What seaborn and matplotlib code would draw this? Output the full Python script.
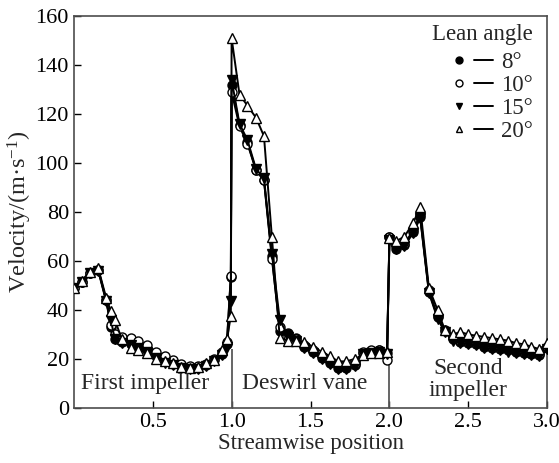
import numpy as np
import pandas as pd
import matplotlib
matplotlib.use('Agg')
import matplotlib.pyplot as plt
import seaborn as sns
from matplotlib.lines import Line2D
from matplotlib.legend_handler import HandlerTuple

# streamwise positions of the three sections
x_first = [0.0, 0.05, 0.10, 0.155, 0.205, 0.235, 0.26, 0.305, 0.36, 0.41, 0.465,
           0.52, 0.575, 0.63, 0.68, 0.735, 0.785, 0.84, 0.89, 0.94, 0.97, 0.995]
x_deswirl = [1.0, 1.05, 1.10, 1.155, 1.205, 1.255, 1.305, 1.36, 1.41, 1.46,
             1.515, 1.57, 1.625, 1.675, 1.725, 1.78, 1.83, 1.885, 1.935, 1.985]
x_second = [2.0, 2.04, 2.095, 2.15, 2.195, 2.25, 2.305, 2.35, 2.4, 2.45, 2.5,
            2.55, 2.6, 2.65, 2.7, 2.75, 2.8, 2.85, 2.9, 2.95, 3.0]

# velocity (m/s) for each lean angle
v8 = ([49, 51.5, 55, 56.5, 44, 33, 28, 27, 26, 25, 23.5, 21, 19, 18, 17, 16.5, 16.5, 17.5, 19.5, 22, 26, 53.5]
      + [132, 115.5, 108.5, 97, 93, 62, 31.5, 30.5, 28.5, 25, 23, 20.5, 18.5, 16.5, 16.5, 17.5, 22.5, 23, 23.5, 22.5]
      + [70, 65, 66.5, 72, 78, 47.5, 37, 31.5, 28, 27, 26.5, 26, 25, 24.5, 24, 23.5, 23, 22.5, 22, 21.5, 24.5])
v10 = ([49, 51.5, 55, 56.5, 44, 34, 30, 29, 28.5, 27.5, 25.5, 23, 21, 19.5, 18, 17, 17, 18, 20, 23, 27, 54]
       + [129, 115, 108, 97, 93, 61, 33, 29.5, 28, 25.5, 23.5, 21, 19, 17.5, 17, 18, 23, 23.5, 23.5, 19.5]
       + [70, 66, 67, 72.5, 79, 48, 37.5, 32, 28.5, 27.5, 27, 26.5, 25.5, 25, 24.5, 24, 23.5, 23, 22.5, 22, 25])
v15 = ([49, 51.5, 55, 56, 43.5, 36, 28, 26.5, 25.5, 24.5, 23, 20.5, 18.5, 17.5, 16.5, 16, 16, 17, 19, 21.5, 25, 43.5]
       + [134, 116, 109.5, 97.5, 94, 63, 36, 29, 27.5, 24.5, 22.5, 20, 18, 16, 16, 17, 22, 22.5, 23, 22]
       + [68.5, 65, 66, 71.5, 77.5, 47, 36.5, 31, 27.5, 26.5, 26, 25.5, 24.5, 24, 23.5, 23, 22.5, 22, 21.5, 21, 24])
v20 = ([49, 52, 55.5, 57, 45, 39.5, 36, 28, 24.5, 23.5, 22.5, 19.8, 19.2, 18.2, 16.8, 16.2, 16.6, 18.2, 19.6, 23.5, 28, 37.5]
       + [151, 128, 123.5, 118.5, 111, 70, 28.5, 27.5, 27.5, 27, 25, 23, 21, 19, 19, 20, 21.6, 22.3, 22.3, 23]
       + [69.5, 68, 70, 75.5, 82, 49, 40, 32, 30, 31, 30, 29.5, 29, 28.5, 28, 27.5, 26.5, 26, 25, 24, 26.5])

angles = ['8°', '10°', '15°', '20°']
x_all = x_first + x_deswirl + x_second

df = pd.concat([pd.DataFrame({'pos': x_all, 'vel': v, 'angle': a})
                for a, v in zip(angles, [v8, v10, v15, v20])])

sns.set_style('ticks')
plt.rcParams['font.family'] = ['Liberation Serif', 'DejaVu Serif']
plt.rcParams['mathtext.fontset'] = 'custom'
plt.rcParams['mathtext.rm'] = 'Liberation Serif'
plt.rcParams['mathtext.it'] = 'Liberation Serif:italic'

markers = {'8°': ('o', 'k'), '10°': ('o', 'white'), '15°': ('v', 'k'), '20°': ('^', 'white')}

fig, ax = plt.subplots(figsize=(5.59, 4.63), dpi=100)
fig.subplots_adjust(left=0.132, right=0.979, top=0.965, bottom=0.119)

# section separators
ax.vlines([1.0, 2.0], 0, 24, color='0.35', lw=1.3, zorder=1)

for a in angles:
    m, fc = markers[a]
    sub = df[df['angle'] == a]
    sns.lineplot(data=sub, x='pos', y='vel', ax=ax, color='k', lw=1.4,
                 marker=m, mfc=fc, mec='k', mew=1.0, ms=6.5,
                 estimator=None, sort=False, zorder=3)

ax.set_xlim(0, 3.0)
ax.set_ylim(0, 160)
ax.set_xticks([0.5, 1.0, 1.5, 2.0, 2.5, 3.0])
ax.set_xticklabels(['0.5', '1.0', '1.5', '2.0', '2.5', '3.0'])
ax.set_yticks(range(0, 161, 20))
ax.tick_params(direction='in', length=5, width=1, labelsize=16, colors='k')
for s in ax.spines.values():
    s.set_visible(True)
    s.set_color('0.3')
    s.set_linewidth(1.2)

ax.set_xlabel('Streamwise position', fontsize=16.5, labelpad=1)
ax.set_ylabel('Velocity/(m·s$^{-1}$)', fontsize=17.5, labelpad=1)

ax.text(0.45, 10, 'First impeller', fontsize=17, ha='center', va='center')
ax.text(1.46, 10, 'Deswirl vane', fontsize=17, ha='center', va='center')
ax.text(2.5, 11.5, 'Second\nimpeller', fontsize=17, ha='center', va='center',
        linespacing=1.05)

handles = []
for a in angles:
    m, fc = markers[a]
    mk = Line2D([], [], ls='none', marker=m, mfc=fc, mec='k', ms=5, mew=1.0)
    ln = Line2D([], [], color='k', lw=1.4)
    handles.append((mk, ln))
leg = ax.legend(handles, angles, title='Lean angle', loc='upper right',
                bbox_to_anchor=(0.998, 1.015), frameon=False, fontsize=16.5,
                title_fontsize=16.5, handlelength=1.9, handletextpad=0.35,
                labelspacing=0.08, borderaxespad=0.2,
                handler_map={tuple: HandlerTuple(ndivide=2, pad=0.25)})
leg._legend_box.align = 'right'
leg._legend_box.sep = 5

fig.savefig('out.png', dpi=100)
